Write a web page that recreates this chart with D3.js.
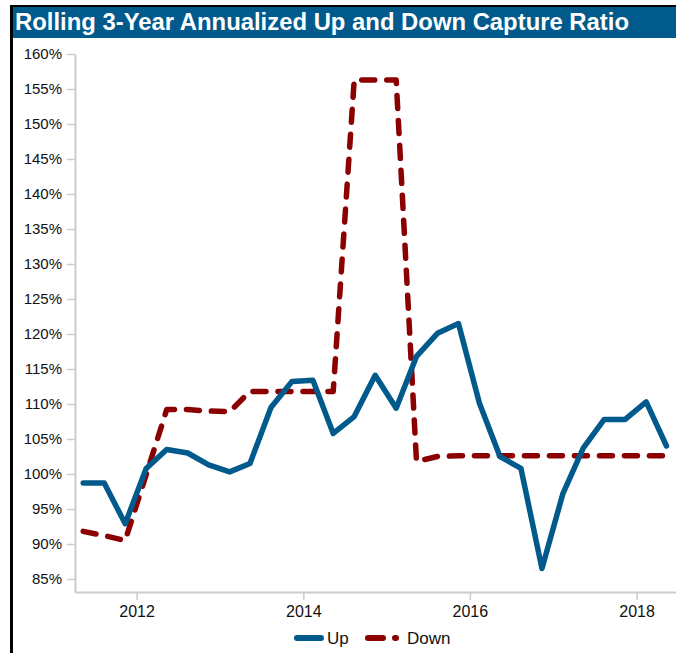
<!DOCTYPE html>
<html>
<head>
<meta charset="utf-8">
<script src="https://cdn.jsdelivr.net/npm/d3@7"></script>
<style>
  html, body { margin: 0; padding: 0; background: #fff; }
  svg { display: block; font-family: Arial, "Liberation Sans", sans-serif; }
</style>
</head>
<body>
<svg id="chart" width="676" height="653"></svg>
<script>
// Quarterly observation dates
const dates = [
  "2011-05-12", "2011-08-12", "2011-11-12",
  "2012-02-12", "2012-05-12", "2012-08-12", "2012-11-12",
  "2013-02-12", "2013-05-12", "2013-08-12", "2013-11-12",
  "2014-02-12", "2014-05-12", "2014-08-12", "2014-11-12",
  "2015-02-12", "2015-05-12", "2015-08-12", "2015-11-12",
  "2016-02-12", "2016-05-12", "2016-08-12", "2016-11-12",
  "2017-02-12", "2017-05-12", "2017-08-12", "2017-11-12",
  "2018-02-12", "2018-05-12"
];

// Rolling 3-year up capture ratio (%)
const upCapture = [
  98.7, 98.7, 92.9,
  100.8, 103.5, 103.0, 101.3,
  100.3, 101.5, 109.5, 113.2,
  113.4, 105.8, 108.2, 114.1,
  109.4, 116.8, 120.1, 121.5,
  110.1, 102.5, 100.8, 86.5,
  97.2, 103.7, 107.8, 107.8,
  110.3, 104.0
];

// Rolling 3-year down capture ratio (%)
const downCapture = [
  91.8, 91.2, 90.5,
  99.9, 109.2, 109.2, 109.0,
  108.9, 111.8, 111.8, 111.8,
  111.8, 111.8, 156.3, 156.3,
  156.3, 101.8, 102.5, 102.6,
  102.6, 102.6, 102.6, 102.6,
  102.6, 102.6, 102.6, 102.6,
  102.6, 102.6
];

const yTicks = [85, 90, 95, 100, 105, 110, 115, 120, 125, 130, 135, 140, 145, 150, 155, 160];
const seriesNames = ["Up", "Down"];

const UP_COLOR = "#005b8c";
const DOWN_COLOR = "#8b0000";
const AXIS_COLOR = "#cccccc";

const svg = d3.select("#chart");
const parse = d3.timeParse("%Y-%m-%d");
const rows = dates.map((d, i) => ({ date: parse(d), up: upCapture[i], down: downCapture[i] }));

// Frame and title banner
svg.append("line").attr("x1", 10).attr("x2", 676).attr("y1", 6).attr("y2", 6)
  .attr("stroke", "#000").attr("stroke-width", 2);
svg.append("line").attr("x1", 11.5).attr("x2", 11.5).attr("y1", 5).attr("y2", 653)
  .attr("stroke", "#000").attr("stroke-width", 3);
svg.append("rect").attr("x", 13).attr("y", 7).attr("width", 663).attr("height", 31)
  .attr("fill", "#005a8c");
svg.append("text").attr("x", 15).attr("y", 30)
  .attr("fill", "#fff").attr("font-weight", "bold").attr("font-size", 23.5)
  .attr("textLength", 614).attr("lengthAdjust", "spacingAndGlyphs")
  .text("Rolling 3-Year Annualized Up and Down Capture Ratio");

// Scales
const plotLeft = 75, plotRight = 676, plotTop = 54, plotBottom = 592;
const xRef = d3.scaleTime()
  .domain([new Date(2012, 0, 1), new Date(2018, 0, 1)])
  .range([136.6, 636.6]);
const x = d3.scaleTime()
  .domain([xRef.invert(plotLeft), xRef.invert(plotRight)])
  .range([plotLeft, plotRight]);
const yRef = d3.scaleLinear().domain([85, 160]).range([579, 54]);
const y = d3.scaleLinear()
  .domain([yRef.invert(plotBottom), 160])
  .range([plotBottom, plotTop]);

// Axes
const yAxis = svg.append("g")
  .attr("transform", `translate(${plotLeft},0)`)
  .call(d3.axisLeft(y).tickValues(yTicks).tickSize(8).tickSizeOuter(0).tickPadding(5)
    .tickFormat(d => d + "%"));
const xAxis = svg.append("g")
  .attr("transform", `translate(0,${plotBottom})`)
  .call(d3.axisBottom(x).ticks(d3.timeYear.every(2)).tickSize(8).tickSizeOuter(0).tickPadding(6)
    .tickFormat(d3.timeFormat("%Y")));

[yAxis, xAxis].forEach(g => {
  g.select(".domain").attr("stroke", AXIS_COLOR).attr("stroke-width", 2);
  g.selectAll(".tick line").attr("stroke", AXIS_COLOR).attr("stroke-width", 1.5);
  g.selectAll(".tick text").attr("fill", "#111").attr("font-family", "Arial, 'Liberation Sans', sans-serif");
});
yAxis.selectAll(".tick text").attr("font-size", 15);
xAxis.selectAll(".tick text").attr("font-size", 16);

// Lines
const lineUp = d3.line().x(d => x(d.date)).y(d => y(d.up));
const lineDown = d3.line().x(d => x(d.date)).y(d => y(d.down));

svg.append("path").datum(rows)
  .attr("d", lineDown)
  .attr("fill", "none").attr("stroke", DOWN_COLOR).attr("stroke-width", 5.5)
  .attr("stroke-dasharray", "13,12").attr("stroke-linecap", "round").attr("stroke-linejoin", "round");

svg.append("path").datum(rows)
  .attr("d", lineUp)
  .attr("fill", "none").attr("stroke", UP_COLOR).attr("stroke-width", 5.5)
  .attr("stroke-linecap", "round").attr("stroke-linejoin", "round");

// Legend
const legend = svg.append("g").attr("transform", "translate(0,638)");
legend.append("line").attr("x1", 297).attr("x2", 321).attr("y1", 0).attr("y2", 0)
  .attr("stroke", UP_COLOR).attr("stroke-width", 6).attr("stroke-linecap", "round");
legend.append("text").attr("x", 327).attr("y", 6).attr("font-size", 17).attr("fill", "#111")
  .text(seriesNames[0]);
legend.append("line").attr("x1", 368).attr("x2", 396).attr("y1", 0).attr("y2", 0)
  .attr("stroke", DOWN_COLOR).attr("stroke-width", 6).attr("stroke-linecap", "round")
  .attr("stroke-dasharray", "15,12");
legend.append("text").attr("x", 407).attr("y", 6).attr("font-size", 17).attr("fill", "#111")
  .text(seriesNames[1]);
</script>
</body>
</html>
